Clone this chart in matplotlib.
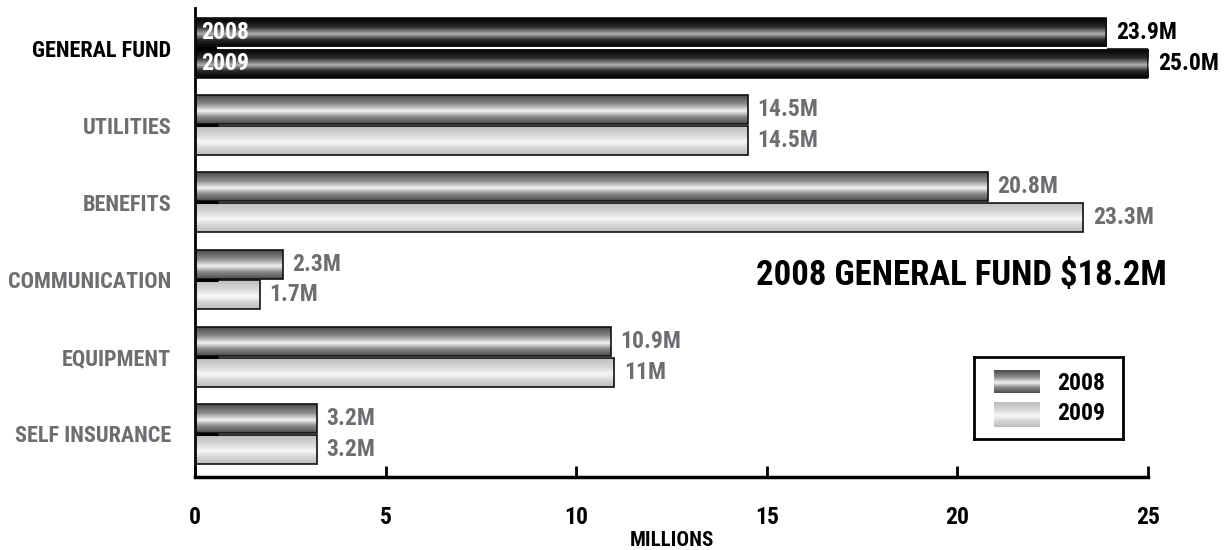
import numpy as np
import matplotlib
matplotlib.use("Agg")
import matplotlib.pyplot as plt
from matplotlib.colors import LinearSegmentedColormap

plt.rcParams["font.family"] = ["Roboto Condensed", "Barlow Condensed", "DejaVu Sans"]
plt.rcParams["font.weight"] = "bold"
plt.rcParams["axes.labelweight"] = "bold"

categories = ["GENERAL FUND", "UTILITIES", "BENEFITS", "COMMUNICATION", "EQUIPMENT", "SELF INSURANCE"]
values_2008 = [23.9, 14.5, 20.8, 2.3, 10.9, 3.2]
values_2009 = [25.0, 14.5, 23.3, 1.7, 11.0, 3.2]
labels_2008 = ["23.9M", "14.5M", "20.8M", "2.3M", "10.9M", "3.2M"]
labels_2009 = ["25.0M", "14.5M", "23.3M", "1.7M", "11M", "3.2M"]
years = ["2008", "2009"]
note = "2008 GENERAL FUND $18.2M"

GRAY = "#6d6e71"
FS = 17

# metallic vertical shading (edge -> highlight -> edge)
cm_2008 = LinearSegmentedColormap.from_list("c08", [(0, "#4a4a4a"), (0.3, "#8a8a8a"), (0.55, "#f2f2f2"), (0.75, "#8a8a8a"), (1, "#4a4a4a")])
cm_2009 = LinearSegmentedColormap.from_list("c09", [(0, "#bdbdbd"), (0.3, "#d6d6d6"), (0.55, "#f8f8f8"), (0.75, "#d6d6d6"), (1, "#bdbdbd")])
cm_gf = LinearSegmentedColormap.from_list("cgf", [(0, "#000000"), (0.3, "#2a2a2a"), (0.55, "#b0b0b0"), (0.75, "#2a2a2a"), (1, "#000000")])
grad = np.linspace(0, 1, 256).reshape(-1, 1)

fig = plt.figure(figsize=(12.26, 5.5), dpi=100)
ax = fig.add_axes([195 / 1226, 73 / 550, 953 / 1226, 469 / 550])

n = len(categories)
ypos = np.arange(n)[::-1].astype(float)
h = 0.375
off = 0.2

def shaded_bars(y, vals, cmaps):
    bars = ax.barh(y, vals, height=h, facecolor="none", edgecolor="#111111", linewidth=1.2, zorder=3)
    for bar, cmap in zip(bars, cmaps):
        x0, y0 = bar.get_x(), bar.get_y()
        im = ax.imshow(grad, cmap=cmap, aspect="auto", origin="upper",
                       extent=[x0, x0 + bar.get_width(), y0, y0 + bar.get_height()], zorder=2)
        im.set_clip_path(bar)
    return bars

cmaps08 = [cm_gf] + [cm_2008] * (n - 1)
cmaps09 = [cm_gf] + [cm_2009] * (n - 1)
b08 = shaded_bars(ypos + off, values_2008, cmaps08)
b09 = shaded_bars(ypos - off, values_2009, cmaps09)

# short dark stub at the base between paired bars
for y in ypos:
    ax.plot([0, 0.6], [y, y], color="black", lw=2.2, zorder=4, solid_capstyle="butt")
ax.plot([0.6, values_2008[0]], [ypos[0], ypos[0]], color="white", lw=1.5, zorder=4)

for bars, labels in [(b08, labels_2008), (b09, labels_2009)]:
    for i, (bar, lab) in enumerate(zip(bars, labels)):
        ax.annotate(lab, (bar.get_width(), bar.get_y() + bar.get_height() / 2), xytext=(7, 0),
                    textcoords="offset points", va="center", ha="left", fontsize=FS,
                    color="black" if i == 0 else GRAY)

# year tags inside the general fund bars
ax.text(0.15, ypos[0] + off, years[0], color="white", fontsize=FS, va="center", ha="left", zorder=5)
ax.text(0.15, ypos[0] - off, years[1], color="white", fontsize=FS, va="center", ha="left", zorder=5)

ax.text(25.5, ypos[3] + 0.05, note, fontsize=25, ha="right", va="center", color="black")

ax.set_xlim(0, 25)
ax.set_ylim(-0.56, n - 1 + 0.52)
ax.set_yticks(ypos)
ax.set_yticklabels(categories, fontsize=16)
for i, t in enumerate(ax.get_yticklabels()):
    t.set_color("black" if i == 0 else GRAY)
ax.tick_params(axis="y", length=0, pad=17)
ax.set_xticks([0, 5, 10, 15, 20, 25])
ax.tick_params(axis="x", direction="in", length=8, width=2, pad=21, labelsize=FS, colors="black")
ax.set_xlabel("MILLIONS", fontsize=15, labelpad=1)
for s in ["top", "right"]:
    ax.spines[s].set_visible(False)
ax.spines["left"].set_linewidth(2)
ax.spines["bottom"].set_linewidth(2.5)

# legend drawn as a small boxed inset
lax = fig.add_axes([974 / 1226, (550 - 439) / 550, 149 / 1226, 82 / 550])
for s in lax.spines.values():
    s.set_linewidth(2)
for cmap, (y0, y1), yr, yt in [(cm_2008, (13, 36), years[0], 26), (cm_2009, (45, 70), years[1], 57)]:
    lax.imshow(grad, cmap=cmap, aspect="auto", origin="upper", extent=[20, 66, y1, y0])
    lax.text(83, yt, yr, fontsize=FS, va="center", ha="left", color="black")
lax.set_xlim(0, 149)
lax.set_ylim(82, 0)
lax.set_xticks([])
lax.set_yticks([])

fig.savefig("out.png", dpi=100)
